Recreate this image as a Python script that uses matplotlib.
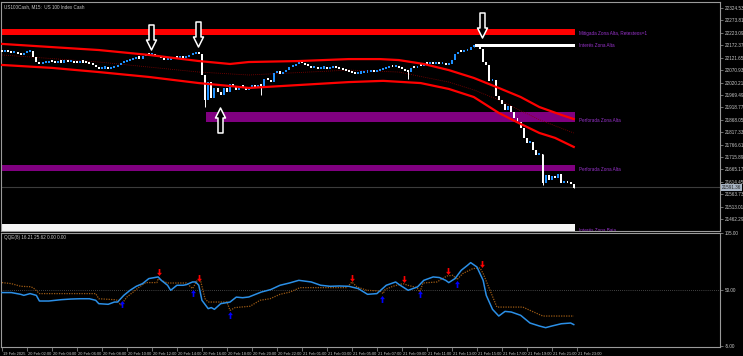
import matplotlib
matplotlib.use("Agg")
import matplotlib.pyplot as plt
from matplotlib.path import Path
from matplotlib.transforms import ScaledTranslation, blended_transform_factory

# ---- price data (US100Cash M15), one close per bar ----
first_open = 22147
closes = [
    22145, 22149, 22145, 22141, 22145, 22137, 22133, 22141, 22145, 22149,
    22125, 22104, 22096, 22098, 22100, 22104, 22103, 22100, 22104, 22102,
    22108, 22104, 22105, 22100, 22098, 22104, 22102, 22100, 22096, 22092,
    22084, 22075, 22077, 22080, 22075, 22080, 22084, 22092, 22100, 22104,
    22108, 22112, 22116, 22120, 22118, 22129, 22133, 22131, 22134, 22129,
    22125, 22120, 22112, 22114, 22116, 22120, 22119, 22125, 22120, 22125,
    22133, 22137, 22141, 22137, 22051, 21949, 22022, 21957, 21998, 21981,
    21969, 21998, 21981, 22014, 22006, 21990, 22006, 22002, 21990, 21998,
    22010, 21998, 22010, 22006, 22035, 22031, 22022, 22059, 22067, 22055,
    22063, 22071, 22084, 22088, 22096, 22104, 22100, 22092, 22088, 22080,
    22084, 22075, 22077, 22080, 22076, 22078, 22080, 22079, 22075, 22071,
    22067, 22063, 22059, 22055, 22057, 22059, 22061, 22063, 22067, 22063,
    22067, 22071, 22075, 22080, 22084, 22082, 22085, 22080, 22075, 22067,
    22063, 22080, 22078, 22088, 22086, 22096, 22094, 22100, 22096, 22100,
    22096, 22098, 22092, 22096, 22112, 22137, 22145, 22143, 22149, 22153,
    22165, 22170, 22165, 22157, 22104, 22092, 22026, 22031, 21965, 21949,
    21932, 21908, 21924, 21900, 21875, 21859, 21834, 21793, 21773, 21777,
    21744, 21724, 21730, 21610, 21642, 21622, 21638, 21630, 21646, 21610,
    21618, 21610, 21606, 21591,
]
opens = [first_open] + closes[:-1]

# long wicks that stand out
wick_bars = [65, 83, 130, 151, 173, 183]
wick_highs = [22051, 22010, 22071, 22174, 21727, 21606]
wick_lows = [21920, 21969, 22035, 22165, 21602, 21589]

# channel lines (bar index, price)
upper_bars = [0, 16, 31, 47, 63, 73, 79, 95, 111, 121, 127, 135, 143, 151, 159, 166, 172, 179, 183]
upper_vals = [22178, 22165, 22153, 22133, 22108, 22096, 22104, 22108, 22116, 22116,
              22112, 22096, 22071, 22039, 21998, 21961, 21920, 21888, 21871]
lower_bars = [0, 16, 31, 47, 63, 73, 79, 95, 111, 122, 134, 143, 151, 159, 166, 172, 177, 183]
lower_vals = [22092, 22080, 22063, 22043, 22018, 22006, 21998, 22010, 22022, 22027,
              22018, 21994, 21961, 21896, 21851, 21814, 21794, 21757]
mid_bars = [0, 31, 63, 79, 111, 127, 143, 151, 159, 172, 183]
mid_vals = [22133, 22104, 22063, 22051, 22071, 22063, 22022, 21990, 21949, 21868, 21814]

# zones: start bar, end bar, low, high, colour, label
zone_start = [-1, 151.4, 65.3, -1, -1]
zone_end = [183.4, 183.4, 183.4, 183.4, 183.4]
zone_low = [22214, 22165, 21859, 21659, 21409]
zone_high = [22239, 22178, 21900, 21683, 21442]
zone_colors = ["#ff0000", "#ffffff", "#800080", "#800080", "#f6f6f6"]
zone_labels = ["Mitigada Zona Alta, Retesteos=1", "Interés Zona Alta",
               "Perforada Zona Alta", "Perforada Zona Alta", "Interés Zona Baja"]

# signal arrows on price
down_sig_bars = [47.7, 62.7, 153.6]
down_sig_prices = [22206, 22218, 22257]
up_sig_bars = [69.8]
up_sig_prices = [21867]

price_ticks = [22324.53, 22273.81, 22223.09, 22172.37, 22121.65, 22070.93, 22020.21,
               21969.49, 21918.77, 21868.05, 21817.33, 21766.61, 21715.89, 21665.17,
               21614.45, 21563.73, 21513.01, 21462.29]
last_price = 21591.36

# ---- QQE indicator ----
qqe_bars = [0, 3, 6, 7, 9, 11, 12, 15, 19, 22, 25, 28, 30, 31, 34, 36, 37, 39, 41, 43,
            45, 47, 50, 51, 53, 54, 56, 58, 59, 61, 62, 63, 64, 66, 67, 68, 70, 73, 75, 77,
            79, 83, 86, 89, 92, 95, 99, 102, 105, 108, 111, 114, 117, 120, 123, 126, 127, 130, 133, 135,
            138, 140, 142, 143, 145, 147, 149, 150, 152, 154, 155, 157, 159, 161, 163, 166, 169, 172, 174, 176,
            179, 182, 183]
qqe_vals = [47.3, 47.3, 45.6, 44.6, 46.3, 44.6, 39.1, 39.1, 40.4, 41.0, 41.3, 41.3, 39.8, 36.5, 35.9, 38.1, 38.1, 44.6, 49.5, 53.4,
            56.0, 60.9, 62.5, 59.2, 54.4, 49.5, 54.4, 54.4, 55.0, 57.6, 57.6, 54.4, 39.8, 31.7, 32.7, 31.0, 36.5, 38.1, 42.9, 42.3,
            43.0, 47.8, 50.2, 54.4, 56.6, 59.2, 57.6, 54.4, 53.4, 53.7, 53.4, 51.2, 45.6, 46.3, 54.4, 57.6, 55.3, 49.5, 52.8, 59.2,
            62.5, 61.9, 59.2, 57.0, 60.9, 69.0, 73.8, 76.4, 72.2, 59.2, 44.6, 31.0, 24.5, 29.0, 28.4, 25.2, 17.7, 14.8, 13.2, 14.8,
            17.0, 17.7, 16.2]
trail_bars = [0, 3, 6, 9, 10, 12, 30, 31, 36, 37, 38, 40, 42, 44, 46, 49.6, 50, 51, 53, 59,
              61, 62.4, 63.4, 65, 66, 72, 73, 74.6, 79.4, 82.6, 85.8, 89, 92.2, 95.4, 110.4, 112, 113.6, 116.8, 121, 122,
              122.6, 125.1, 128.3, 129.9, 132.8, 133.8, 134.7, 139.2, 142.4, 144.3, 145.6, 147.5, 150.7, 153, 154, 156.2, 158.4, 166.7, 169, 173.1,
              183]
trail_vals = [57.0, 56.0, 53.4, 53.0, 52.0, 46.3, 46.3, 41.3, 40.4, 39.8, 34.9, 43.0, 47.8, 52.8, 57.0, 57.0, 60.9, 59.2, 56.6, 56.6,
              51.2, 58.6, 60.9, 41.3, 38.1, 38.1, 30.0, 32.7, 34.0, 39.8, 41.3, 45.6, 47.8, 52.1, 52.1, 57.6, 52.8, 49.5, 48.8, 46.3,
              50.2, 53.4, 56.0, 54.4, 52.1, 47.8, 56.6, 57.6, 63.4, 64.1, 59.9, 65.8, 70.6, 71.2, 65.8, 49.5, 33.2, 33.2, 30.0, 24.5,
              24.5]
sell_bars = [50.2, 63.0, 112.0, 128.6, 142.7, 153.6]
sell_vals = [67.3, 61.9, 61.5, 60.9, 68.0, 74.8]
buy_bars = [38.4, 61.1, 73.0, 121.6, 133.8, 145.6]
buy_vals = [35.9, 46.9, 25.2, 41.4, 46.3, 55.3]

time_labels = ["19 Feb 2025", "20 Feb 02:00", "20 Feb 04:00", "20 Feb 06:00", "20 Feb 08:00",
               "20 Feb 10:00", "20 Feb 12:00", "20 Feb 14:00", "20 Feb 16:00", "20 Feb 18:00",
               "20 Feb 20:00", "20 Feb 22:00", "21 Feb 01:00", "21 Feb 03:00", "21 Feb 05:00",
               "21 Feb 07:00", "21 Feb 09:00", "21 Feb 11:00", "21 Feb 13:00", "21 Feb 15:00",
               "21 Feb 17:00", "21 Feb 19:00", "21 Feb 21:00", "21 Feb 23:00"]

# ---- style ----
BG = "black"
AXC = "#9a9a9a"
TXT = "#c8c8c8"
FS = 3.3
NARROW = ["Liberation Sans Narrow", "Liberation Sans", "DejaVu Sans"]
BULL = "#1e90ff"
BEAR = "#ffffff"
plt.rcParams["font.family"] = ["Liberation Sans", "DejaVu Sans"]

W, H = 743, 356
fig = plt.figure(figsize=(W / 100, H / 100), dpi=100, facecolor=BG)
ax = fig.add_axes([1 / W, 1 - 231 / H, 719 / W, 229 / H], facecolor=BG)
ax2 = fig.add_axes([1 / W, 1 - 347 / H, 719 / W, 114 / H], facecolor=BG)

xmin, xmax = -0.3, 229.8
for a in (ax, ax2):
    a.set_xlim(xmin, xmax)
    for s in a.spines.values():
        s.set_color(AXC)
        s.set_linewidth(0.8)
    a.yaxis.tick_right()
    a.tick_params(axis="y", colors=AXC, labelcolor=TXT, labelsize=FS, length=2, width=0.5, pad=1.2)

ax.set_ylim(21413.4, 22349.3)
ax.set_xticks([])
ax.set_yticks(price_ticks)
ax.set_yticklabels([f"{v:.2f}" for v in price_ticks])

# zones
for x0, x1, lo, hi, col, lab in zip(zone_start, zone_end, zone_low, zone_high, zone_colors, zone_labels):
    ax.fill_between([x0, x1], lo, hi, color=col, lw=0, zorder=1)
    ax.text(x1 + 1.2, lo - 3, lab, color="#9933cc", fontsize=FS, va="bottom", ha="left",
            zorder=5, clip_on=True)

# current price line
ax.axhline(last_price, color="#3c3c3c", lw=0.8, zorder=0.5)
ax.text(1.002, last_price, f"{last_price:.2f}", transform=blended_transform_factory(ax.transAxes, ax.transData),
        fontsize=FS, color="#202020", va="center", ha="left", clip_on=False,
        bbox=dict(boxstyle="square,pad=0.2", fc="#a8b4c4", ec="none"))

# candles
for i, (o, c) in enumerate(zip(opens, closes)):
    col = BULL if c > o else BEAR
    lo, hi = min(o, c), max(o, c)
    if hi - lo < 9:
        hi = lo + 9
    ax.bar(i, hi - lo, bottom=lo, width=0.62, color=col, lw=0, zorder=3)
for b, h, l in zip(wick_bars, wick_highs, wick_lows):
    col = BULL if closes[b] > opens[b] else BEAR
    ax.vlines(b, l, h, color=col, lw=0.7, zorder=3)

# channel
ax.plot(upper_bars, upper_vals, color="#ff0000", lw=1.6, zorder=4)
ax.plot(lower_bars, lower_vals, color="#ff0000", lw=1.6, zorder=4)
ax.plot(mid_bars, mid_vals, color="#8b0000", lw=0.6, ls=(0, (1, 1.5)), zorder=2)

# big hollow arrows
down_arrow = Path([(-0.1, 0.5), (0.1, 0.5), (0.1, -0.1), (0.2, -0.1), (0, -0.5),
                   (-0.2, -0.1), (-0.1, -0.1), (-0.1, 0.5)], closed=True)
up_arrow = Path([(x, -y) for x, y in down_arrow.vertices], closed=True)
ax.plot(down_sig_bars, down_sig_prices, ls="none", marker=down_arrow, markersize=18,
        markerfacecolor="black", markeredgecolor="white", markeredgewidth=1.1, zorder=6)
ax.plot(up_sig_bars, up_sig_prices, ls="none", marker=up_arrow, markersize=18,
        markerfacecolor="black", markeredgecolor="white", markeredgewidth=1.1, zorder=6)

ax.text(0.004, 0.992, "US100Cash, M15:  US 100 Index Cash", transform=ax.transAxes,
        fontsize=FS, color=TXT, va="top", ha="left")

# ---- indicator window ----
ax2.set_ylim(-5.6, 105.2)
ax2.set_yticks([105, 50, -5])
ax2.set_yticklabels(["105.00", "50.00", "-5.00"])
ax2.axhline(50, color="#808080", lw=0.5, ls=(0, (1, 2)), zorder=1)
ax2.plot(trail_bars, trail_vals, color="#9c5a14", lw=0.9, ls=(0, (1, 1)), zorder=2)
ax2.plot(qqe_bars, qqe_vals, color="#2b8fe6", lw=1.1, zorder=3)

small_up = Path([(0, 0.5), (0.35, 0.05), (0.12, 0.05), (0.12, -0.5), (-0.12, -0.5),
                 (-0.12, 0.05), (-0.35, 0.05), (0, 0.5)], closed=True)
small_down = Path([(x, -y) for x, y in small_up.vertices], closed=True)
ax2.plot(sell_bars, sell_vals, ls="none", marker=small_down, markersize=5,
         color="#ff0000", markeredgewidth=0, zorder=4)
ax2.plot(buy_bars, buy_vals, ls="none", marker=small_up, markersize=5,
         color="#0000ff", markeredgewidth=0, zorder=4)

ax2.text(0.004, 0.985, "QQE(8) 16.21 25.62 0.00 0.00", transform=ax2.transAxes,
         fontsize=FS, color=TXT, va="top", ha="left")

ax2.set_xticks([8 * k for k in range(len(time_labels))])
ax2.set_xticklabels(time_labels)
ax2.tick_params(axis="x", colors=AXC, labelcolor=TXT, labelsize=2.9, length=3, width=0.5, pad=0.3)
for lab in ax2.get_xticklabels():
    lab.set_family(NARROW)
    lab.set_horizontalalignment("left")
    lab.set_transform(lab.get_transform() + ScaledTranslation(0.8 / 100, 0, fig.dpi_scale_trans))

fig.savefig("out.png", dpi=100, facecolor=BG)
